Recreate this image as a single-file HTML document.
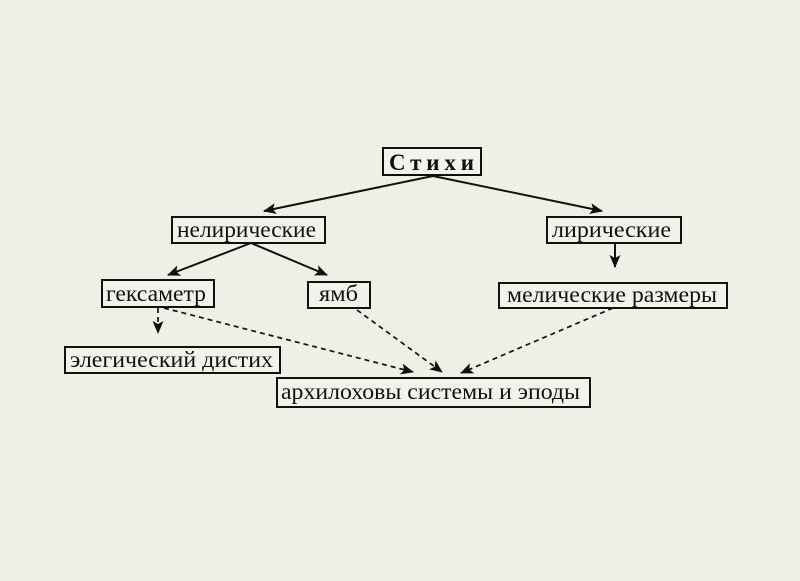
<!DOCTYPE html>
<html><head><meta charset="utf-8"><style>
html,body{margin:0;padding:0;background:#eff0e5;}
svg{display:block;}
text{font-family:"Liberation Serif","DejaVu Serif",serif;font-size:23px;fill:#111;}
</style></head><body>
<svg width="800" height="581" viewBox="0 0 800 581">
<defs>
<marker id="a" markerWidth="13" markerHeight="11" refX="12" refY="5.5" orient="auto" markerUnits="userSpaceOnUse">
<path d="M0,0 L13,5.5 L0,11 L3,5.5 Z" fill="#111"/>
</marker>
</defs>
<g fill="#f3f2ea" stroke="#111" stroke-width="2">
<rect x="383" y="148" width="98" height="27"/>
<rect x="172" y="217" width="153" height="26"/>
<rect x="547" y="217" width="134" height="26"/>
<rect x="102" y="280" width="112" height="27"/>
<rect x="308" y="282" width="62" height="26"/>
<rect x="499" y="283" width="228" height="25"/>
<rect x="65" y="347" width="215" height="26"/>
<rect x="277" y="378" width="313" height="29"/>
</g>
<g stroke="#111" stroke-width="2" fill="none">
<line x1="433" y1="176" x2="264" y2="211" marker-end="url(#a)"/>
<line x1="433" y1="176" x2="602" y2="211" marker-end="url(#a)"/>
<line x1="251" y1="243" x2="168" y2="275" marker-end="url(#a)"/>
<line x1="251" y1="243" x2="327" y2="275" marker-end="url(#a)"/>
<line x1="615" y1="243" x2="615" y2="267" marker-end="url(#a)"/>
<g stroke-dasharray="5,4" stroke-width="1.7">
<line x1="158" y1="308" x2="158" y2="333" marker-end="url(#a)"/>
<line x1="164" y1="308" x2="413" y2="372" marker-end="url(#a)"/>
<line x1="357" y1="310" x2="442" y2="372" marker-end="url(#a)"/>
<line x1="613" y1="308" x2="461" y2="373" marker-end="url(#a)"/>
</g>
</g>
<text x="389" y="170" font-weight="bold" textLength="85" lengthAdjust="spacing">Стихи</text>
<text x="177" y="237" textLength="139" lengthAdjust="spacingAndGlyphs">нелирические</text>
<text x="552" y="237" textLength="119" lengthAdjust="spacingAndGlyphs">лирические</text>
<text x="106" y="301" textLength="100" lengthAdjust="spacingAndGlyphs">гексаметр</text>
<text x="319" y="301" textLength="39" lengthAdjust="spacingAndGlyphs">ямб</text>
<text x="507" y="302" textLength="210" lengthAdjust="spacingAndGlyphs">мелические размеры</text>
<text x="70" y="367" textLength="203" lengthAdjust="spacingAndGlyphs">элегический дистих</text>
<text x="281" y="399" textLength="299" lengthAdjust="spacingAndGlyphs">архилоховы системы и эподы</text>
</svg>
</body></html>
